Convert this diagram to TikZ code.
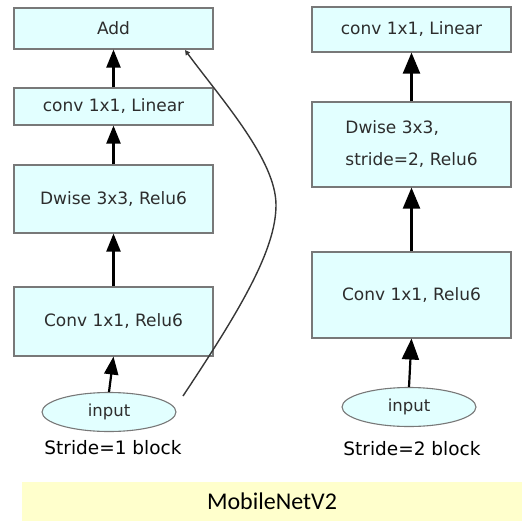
\documentclass[tikz,border=0pt]{standalone}
\usepackage{fontspec}
\setmainfont{DejaVu Sans}
\newfontfamily\bannerfont{Carlito}
\usetikzlibrary{arrows.meta,shapes.geometric}
\definecolor{boxfill}{RGB}{226,255,255}
\definecolor{boxline}{RGB}{120,120,120}
\definecolor{boxtext}{RGB}{45,45,45}
\definecolor{bannerfill}{RGB}{255,255,204}
\begin{document}
\begin{tikzpicture}[x=1pt,y=-1pt,
  layer/.style={draw=boxline,line width=1.1pt,fill=boxfill,text=boxtext,
    font=\fontsize{17}{20}\selectfont,minimum width=199pt,inner sep=0pt,anchor=center},
  inputnode/.style={ellipse,draw=boxline,line width=1.1pt,fill=boxfill,text=boxtext,
    font=\fontsize{16.5}{19}\selectfont,minimum width=134pt,minimum height=39pt,inner sep=0pt},
  caption/.style={font=\fontsize{18.5}{22}\selectfont,text=black},
  flowL/.style={-{Triangle[length=18pt,width=14pt]},line width=2.2pt,black},
  flowR/.style={-{Triangle[length=21pt,width=17pt]},line width=2.2pt,black},
  skip/.style={-{Triangle[length=5pt,width=5pt]},line width=1.4pt,draw={rgb,255:red,55;green,55;blue,55}}
]
\useasboundingbox (0,0) rectangle (522,530);
% left block
\node[layer,minimum height=41pt] (add) at (113.5,28.5) {Add};
\node[layer,minimum height=37pt] (lin) at (113.5,106.5) {conv 1x1, Linear};
\node[layer,minimum height=68pt] (dw) at (113.5,199) {Dwise 3x3, Relu6};
\node[layer,minimum height=69pt] (cone) at (113.5,321.5) {Conv 1x1, Relu6};
\node[inputnode] (inone) at (109,412) {input};
\node[caption] (capone) at (113,448) {Stride=1 block};
\draw[flowL] (inone.north) -- (cone.south);
\draw[flowL] (cone.north) -- (dw.south);
\draw[flowL] (dw.north) -- (lin.south);
\draw[flowL] (lin.north) -- (add.south);
\coordinate (skipstart) at (183,396);
\coordinate (skipmid) at (276,205);
\coordinate (skipend) at (185,50);
\draw[skip] (skipstart) .. controls (240,310) and (276,250) .. (skipmid)
  .. controls (276,160) and (222,100) .. (skipend);
% right block
\node[layer,minimum height=45pt] (rlin) at (411.5,29.5) {conv 1x1, Linear};
\node[layer,minimum height=85pt,align=left,font=\fontsize{17}{32}\selectfont] (rdw) at (411.5,144.5) {Dwise 3x3,\\stride=2, Relu6};
\node[layer,minimum height=86pt] (rcone) at (411.5,295) {Conv 1x1, Relu6};
\node[inputnode] (intwo) at (409,407) {input};
\node[caption] (captwo) at (412,449) {Stride=2 block};
\draw[flowR] (intwo.north) -- (rcone.south);
\draw[flowR] (rcone.north) -- (rdw.south);
\draw[flowR] (rdw.north) -- (rlin.south);
% banner
\node[fill=bannerfill,minimum width=500pt,minimum height=39pt,inner sep=0pt,
  font=\bannerfont\fontsize{24}{28}\selectfont,text=black] (banner) at (272,501.5) {MobileNetV2};
\end{tikzpicture}
\end{document}
